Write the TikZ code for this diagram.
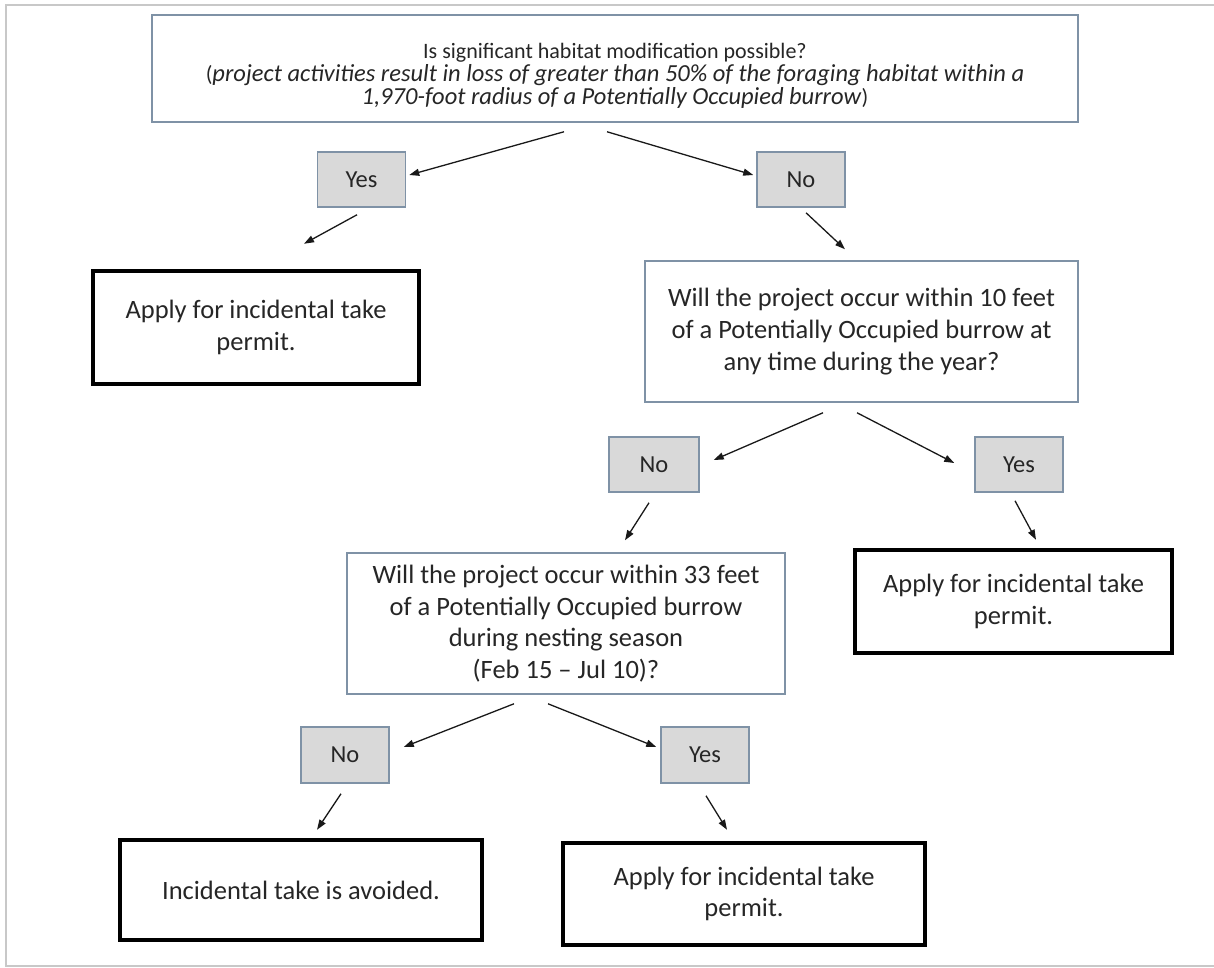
\documentclass[tikz,border=0pt]{standalone}
\usepackage{fontspec}
\setmainfont{Carlito}
\usetikzlibrary{arrows.meta}
\definecolor{edge}{HTML}{7F92A6}
\definecolor{answer}{HTML}{D9D9D9}
\definecolor{ink}{HTML}{262626}
\definecolor{frame}{HTML}{C8C8C8}
\tikzset{box/.style={draw=edge,line width=1.5pt,align=center,inner sep=0pt,text=ink,font=\fontsize{26.5}{31.7}\selectfont},ask/.style={box,fill=white},reply/.style={box,fill=answer,minimum width=88pt,minimum height=55pt,font=\fontsize{24.5}{28}\selectfont},outcome/.style={box,draw=black,line width=4.5pt},arrow/.style={-{Triangle[length=10pt,width=7pt]},line width=1.3pt,black!90}}

\begin{document}
\begin{tikzpicture}[x=1pt,y=-1pt]
\useasboundingbox (0,0) rectangle (1214,967);
\draw[frame,line width=2pt] (1214,5) -- (6,5) -- (6,966) -- (1214,966);
\node[ask,minimum width=926pt,minimum height=107pt,font=\fontsize{22}{23}\selectfont] (q1) at (615,68.5) {\rule{0pt}{30pt}Is significant habitat modification possible?\\(\textit{\fontsize{24.5}{23}\selectfont project activities result in loss of greater than 50\% of the foraging habitat within a}\\\textit{\fontsize{24.5}{23}\selectfont 1,970-foot radius of a Potentially Occupied burrow})};
\node[reply] (yes1) at (361.5,179.5) {Yes};
\node[reply] (no1) at (801,179.5) {No};
\node[outcome,minimum width=326pt,minimum height=113pt] (apl1) at (256,327.5) {Apply for incidental take\\permit.};
\node[ask,minimum width=433pt,minimum height=141pt] (q2) at (861.5,331.5) {Will the project occur within 10 feet\\of a Potentially Occupied burrow at\\any time during the year?};
\node[reply,minimum width=90pt] (no2) at (654,464.5) {No};
\node[reply] (yes2) at (1019,464.5) {Yes};
\node[outcome,minimum width=317pt,minimum height=103pt] (apl2) at (1013.5,601.5) {Apply for incidental take\\permit.};
\node[ask,minimum width=438pt,minimum height=141pt] (q3) at (566,623.5) {Will the project occur within 33 feet\\of a Potentially Occupied burrow\\during nesting season\\(Feb 15 -- Jul 10)?};
\node[reply,minimum height=56pt] (no3) at (345,755) {No};
\node[reply,minimum height=56pt] (yes3) at (705,755) {Yes};
\node[outcome,minimum width=362pt,minimum height=100pt] (avoid) at (301,890) {Incidental take is avoided.};
\node[outcome,minimum width=362pt,minimum height=102pt] (apl3) at (744,894) {Apply for incidental take\\permit.};
\foreach \a/\ax/\ay/\b/\bx/\by in {q1.south/-51/-9/yes1.east/3/4.5,q1.south/-8/-9/no1.west/-3/4.5,yes1.south/-4.5/-7/apl1.north/48/25,no1.south/5/-5/q2.north/-16.5/11,q2.south/-38.5/-10/no2.east/14/4.5,q2.south/-4.5/-10/yes2.west/-20/1.5,no2.south/-5/-10/q3.north/59/12,yes2.south/-4/-8/apl2.north/22.5/8,q3.south/-52/-9/no3.east/14/8,q3.south/-18/-9/yes3.west/-4/8,no3.south/-4/-10/avoid.north/16/8,yes3.south/1/-12/apl3.north/-17/11}{\draw[arrow]([xshift=\ax pt,yshift=\ay pt]\a)--([xshift=\bx pt,yshift=\by pt]\b);}

\end{tikzpicture}
\end{document}
